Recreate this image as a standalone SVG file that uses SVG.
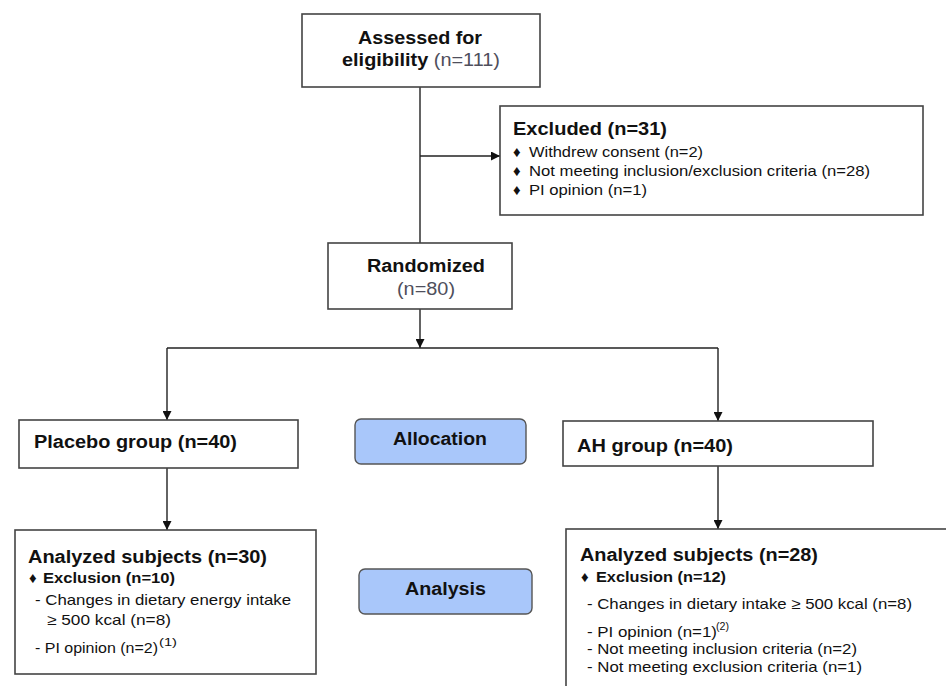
<svg xmlns="http://www.w3.org/2000/svg" width="946" height="686" viewBox="0 0 946 686">
<defs>
<marker id="arr" viewBox="0 0 10 10" refX="10" refY="5" markerWidth="9" markerHeight="9" markerUnits="userSpaceOnUse" orient="auto">
<path d="M0,0 L10,5 L0,10 Z" fill="#111"/>
</marker>
<style>
.box{fill:#fff;stroke:#444;stroke-width:1.6}
.stage{fill:#a9c7fa;stroke:#555;stroke-width:1.4}
.ln{fill:none;stroke:#222;stroke-width:1.4}
text{font-family:"Liberation Sans",Arial,sans-serif;fill:#111}
.t{font-size:17.5px;font-weight:bold}
.b{font-size:15px}
.bb{font-size:15px;font-weight:bold}
.g{font-weight:normal;fill:#4f4f5c}
.sup{font-size:10px}
</style>
</defs>
<rect width="946" height="686" fill="#fff"/>
<g id="connectors">
<path class="ln" d="M420,87 V243"/>
<path class="ln" d="M420,156 H500" marker-end="url(#arr)"/>
<path class="ln" d="M420,309 V348" marker-end="url(#arr)"/>
<path class="ln" d="M167,348 H718"/>
<path class="ln" d="M167,348 V420" marker-end="url(#arr)"/>
<path class="ln" d="M718,348 V421" marker-end="url(#arr)"/>
<path class="ln" d="M167,468 V530" marker-end="url(#arr)"/>
<path class="ln" d="M718,466 V529" marker-end="url(#arr)"/>
</g>
<g id="assessed">
<rect class="box" x="302" y="14" width="238" height="73"/>
<text class="t" x="358" y="44" textLength="124" lengthAdjust="spacingAndGlyphs">Assessed for</text>
<text class="t" x="342" y="66" textLength="158" lengthAdjust="spacingAndGlyphs">eligibility <tspan class="g">(n=111)</tspan></text>
</g>
<g id="excluded">
<rect class="box" x="500" y="106" width="423" height="109"/>
<text class="t" x="513" y="135" textLength="154" lengthAdjust="spacingAndGlyphs">Excluded (n=31)</text>
<text class="b" x="513" y="157">♦</text>
<text class="b" x="529" y="157" textLength="174" lengthAdjust="spacingAndGlyphs">Withdrew consent (n=2)</text>
<text class="b" x="513" y="176">♦</text>
<text class="b" x="529" y="176" textLength="341" lengthAdjust="spacingAndGlyphs">Not meeting inclusion/exclusion criteria (n=28)</text>
<text class="b" x="513" y="195">♦</text>
<text class="b" x="529" y="195" textLength="118" lengthAdjust="spacingAndGlyphs">PI opinion (n=1)</text>
</g>
<g id="randomized">
<rect class="box" x="328" y="243" width="184" height="66"/>
<text class="t" x="367" y="272" textLength="118" lengthAdjust="spacingAndGlyphs">Randomized</text>
<text class="t g" x="397" y="295" textLength="58" lengthAdjust="spacingAndGlyphs">(n=80)</text>
</g>
<g id="placebo">
<rect class="box" x="19" y="420" width="279" height="48"/>
<text class="t" x="34" y="448" textLength="203" lengthAdjust="spacingAndGlyphs">Placebo group (n=40)</text>
</g>
<g id="allocation">
<rect class="stage" x="355" y="419" width="171" height="45" rx="6"/>
<text class="t" x="393" y="445" textLength="94" lengthAdjust="spacingAndGlyphs">Allocation</text>
</g>
<g id="ah">
<rect class="box" x="563" y="421" width="310" height="45"/>
<text class="t" x="577" y="452" textLength="156" lengthAdjust="spacingAndGlyphs">AH group (n=40)</text>
</g>
<g id="analyzed-placebo">
<rect class="box" x="15" y="530" width="301" height="144"/>
<text class="t" x="28" y="563" textLength="239" lengthAdjust="spacingAndGlyphs">Analyzed subjects (n=30)</text>
<text class="bb" x="29" y="583">♦</text>
<text class="bb" x="43" y="583" textLength="132" lengthAdjust="spacingAndGlyphs">Exclusion (n=10)</text>
<text class="b" x="35" y="605" textLength="256" lengthAdjust="spacingAndGlyphs">- Changes in dietary energy intake</text>
<text class="b" x="47" y="625" textLength="124" lengthAdjust="spacingAndGlyphs">≥  500 kcal (n=8)</text>
<text class="b" x="35" y="653" textLength="123" lengthAdjust="spacingAndGlyphs">- PI opinion (n=2)</text>
<text class="b sup" x="159" y="646" textLength="18" lengthAdjust="spacingAndGlyphs">(1)</text>
</g>
<g id="analysis">
<rect class="stage" x="359" y="569" width="173" height="45" rx="6"/>
<text class="t" x="405" y="595" textLength="81" lengthAdjust="spacingAndGlyphs">Analysis</text>
</g>
<g id="analyzed-ah">
<rect class="box" x="566" y="529" width="400" height="200"/>
<text class="t" x="580" y="561" textLength="238" lengthAdjust="spacingAndGlyphs">Analyzed subjects (n=28)</text>
<text class="bb" x="581" y="582">♦</text>
<text class="bb" x="596" y="582" textLength="130" lengthAdjust="spacingAndGlyphs">Exclusion (n=12)</text>
<text class="b" x="587" y="609" textLength="325" lengthAdjust="spacingAndGlyphs">- Changes in dietary intake ≥ 500 kcal (n=8)</text>
<text class="b" x="587" y="637" textLength="130" lengthAdjust="spacingAndGlyphs">- PI opinion (n=1)</text>
<text class="b sup" x="716" y="630" textLength="13" lengthAdjust="spacingAndGlyphs">(2)</text>
<text class="b" x="587" y="654" textLength="270" lengthAdjust="spacingAndGlyphs">- Not meeting inclusion criteria (n=2)</text>
<text class="b" x="587" y="672" textLength="275" lengthAdjust="spacingAndGlyphs">- Not meeting exclusion criteria (n=1)</text>
</g>
</svg>
